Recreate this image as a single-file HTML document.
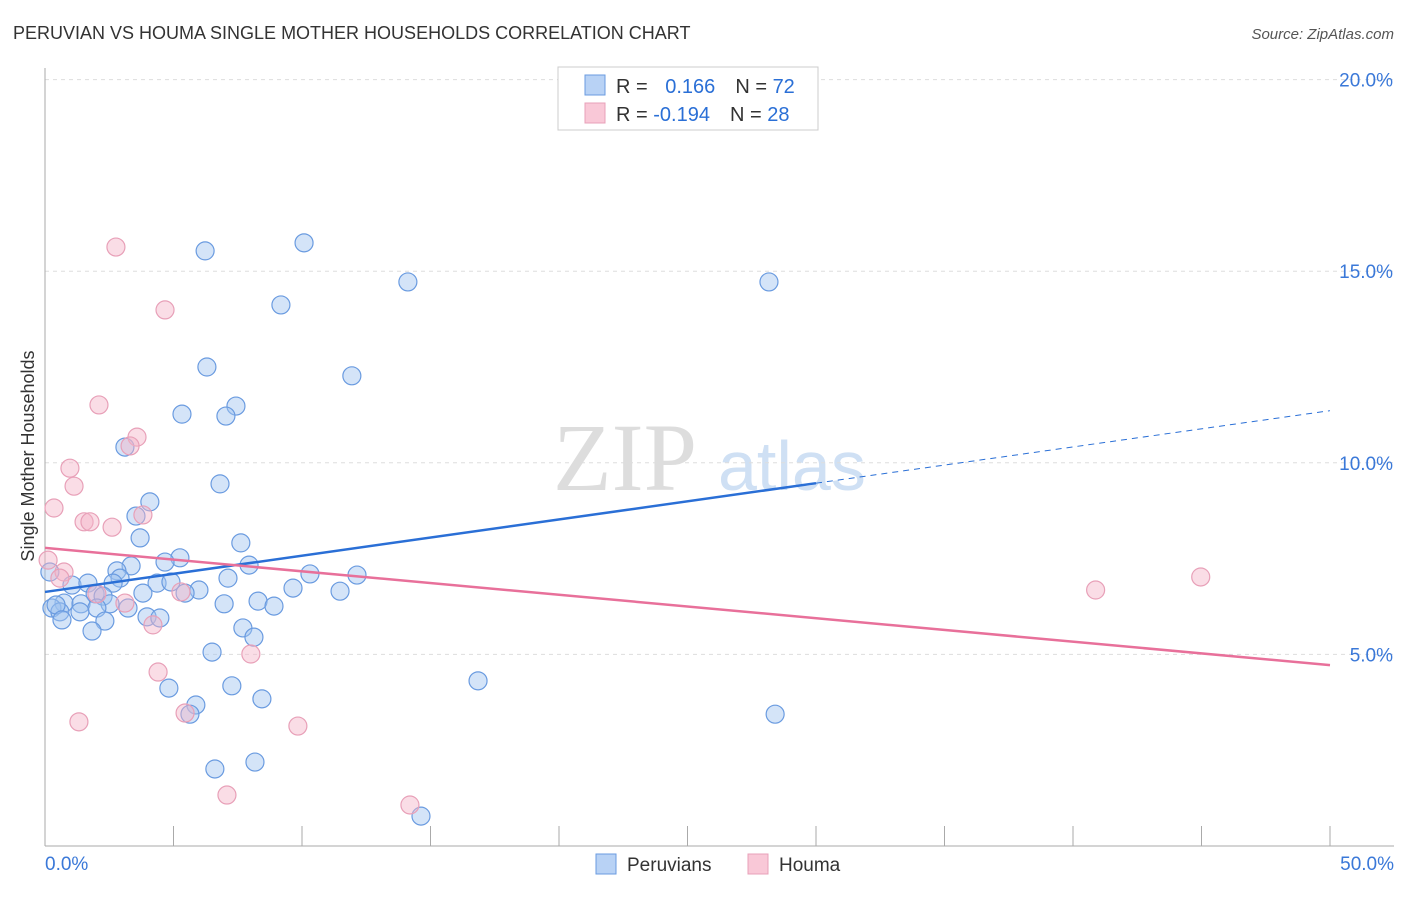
<!DOCTYPE html>
<html><head><meta charset="utf-8"><style>
body{margin:0;background:#fff;font-family:"Liberation Sans",sans-serif}
</style></head><body>
<svg id="chart" width="1406" height="892" xmlns="http://www.w3.org/2000/svg" font-family="Liberation Sans, sans-serif">
<text x="13" y="39" font-size="18" fill="#333">PERUVIAN VS HOUMA SINGLE MOTHER HOUSEHOLDS CORRELATION CHART</text>
<text x="1394" y="39" font-size="15" fill="#555" text-anchor="end" font-style="italic">Source: ZipAtlas.com</text>
<g><text x="553" y="490" font-size="96" fill="#ddd" font-family="Liberation Serif, serif">ZIP</text><text x="718" y="490" font-size="70" fill="#cfe0f4">atlas</text></g>
<text transform="translate(34,456) rotate(-90)" font-size="18" fill="#333" text-anchor="middle">Single Mother Households</text>
<g id="grid"></g><g id="axes"></g><g id="marks"></g>
<g>
<rect x="558" y="67" width="260" height="63" fill="#fff" stroke="#ccc"/>
<rect x="585" y="75" width="20" height="20" fill="#b8d2f5" stroke="#6a9be0"/>
<rect x="585" y="103" width="20" height="20" fill="#f9c8d7" stroke="#e8a0b8"/>
<text x="616" y="93" font-size="20" fill="#333">R = <tspan fill="#2a6fd6" dx="12">0.166</tspan><tspan dx="20" fill="#333">N = </tspan><tspan fill="#2a6fd6">72</tspan></text>
<text x="616" y="121" font-size="20" fill="#333">R = <tspan fill="#2a6fd6">-0.194</tspan><tspan dx="20" fill="#333">N = </tspan><tspan fill="#2a6fd6">28</tspan></text>
</g>
<g>
<rect x="596" y="854" width="20" height="20" fill="#b8d2f5" stroke="#6a9be0"/>
<text x="627" y="871" font-size="19" fill="#333">Peruvians</text>
<rect x="748" y="854" width="20" height="20" fill="#f9c8d7" stroke="#e8a0b8"/>
<text x="779" y="871" font-size="19" fill="#333">Houma</text>
</g>
</svg>
<script>
const blueX=[10.08,6.23,14.12,28.17,9.18,6.30,11.94,7.43,5.33,7.04,3.11,6.81,4.08,3.54,3.70,7.62,5.25,4.67,7.94,3.35,2.80,10.31,12.14,7.12,2.92,4.36,1.05,1.67,2.65,4.90,9.65,11.48,5.99,5.45,3.81,1.95,2.26,8.29,8.91,6.97,0.74,1.40,2.53,3.23,0.27,0.58,2.02,1.36,0.43,3.97,4.47,0.66,2.33,7.70,1.83,8.13,6.50,16.85,4.82,7.27,5.87,8.44,5.64,28.41,6.61,8.17,14.63,0.19];
const blueY=[15.74,15.53,14.72,14.72,14.12,12.50,12.27,11.48,11.27,11.22,10.41,9.45,8.98,8.61,8.04,7.91,7.52,7.41,7.33,7.31,7.18,7.10,7.07,6.99,6.99,6.86,6.81,6.86,6.86,6.89,6.73,6.65,6.68,6.60,6.60,6.58,6.52,6.39,6.26,6.32,6.34,6.32,6.32,6.21,6.21,6.11,6.21,6.11,6.29,5.98,5.95,5.90,5.87,5.69,5.61,5.45,5.06,4.31,4.12,4.18,3.68,3.84,3.44,3.44,2.01,2.19,0.78,7.15];
const pinkX=[2.76,4.67,2.10,3.58,3.31,0.97,1.13,0.35,3.81,1.52,1.75,2.61,0.12,0.74,0.58,44.97,40.88,5.29,2.02,3.11,4.20,8.01,4.40,5.45,1.32,9.84,7.08,14.20];
const pinkY=[15.63,13.99,11.51,10.67,10.44,9.86,9.39,8.82,8.64,8.46,8.46,8.32,7.46,7.15,6.99,7.02,6.68,6.63,6.58,6.34,5.77,5.01,4.54,3.47,3.24,3.13,1.33,1.07];
const blueTrend=[6.63,11.36]; // values at x=0 and x=50
const blueSolidEnd=30;
const pinkTrend=[7.78,4.72];
const yTicks=[5,10,15,20];
const yTickLabels=["5.0%","10.0%","15.0%","20.0%"];
const xTicks=[0,5,10,15,20,25,30,35,40,45,50];
const xLabels=[[0,"0.0%"],[50,"50.0%"]];

const NS="http://www.w3.org/2000/svg";
const X=v=>45+v*(1285/50), Y=v=>846-v*38.32;
function mk(tag,attrs,parent){const e=document.createElementNS(NS,tag);for(const k in attrs)e.setAttribute(k,attrs[k]);parent.appendChild(e);return e;}
const grid=document.getElementById('grid'),axes=document.getElementById('axes'),marks=document.getElementById('marks');
yTicks.forEach((t,i)=>{
 const l=mk('line',{x1:45,x2:1394,y1:Y(t),y2:Y(t),stroke:'#ddd','stroke-dasharray':'4,4'},grid);
 
 
 const tx=mk('text',{x:1393,y:Y(t)+7,'font-size':19,fill:'#3a78d8','text-anchor':'end'},axes);
 tx.textContent=yTickLabels[i];
 
 
});
const ax=mk('line',{x1:45,x2:45,y1:68,y2:846,stroke:'#aaa'},axes);


const bx=mk('line',{x1:45,x2:1394,y1:846,y2:846,stroke:'#aaa'},axes);


xTicks.forEach(t=>{const l=mk('line',{x1:X(t),x2:X(t),y1:826,y2:846,stroke:'#aaa'},axes);
 
 });
xLabels.forEach(([v,s],i)=>{const tx=mk('text',{x:i?1394:45,y:870,'font-size':19,fill:'#3a78d8','text-anchor':i?'end':'start'},axes);tx.textContent=s;
 
 });
blueX.forEach((v,i)=>{const c=mk('circle',{cx:X(v),cy:Y(blueY[i]),r:9,fill:'rgba(160,196,240,0.45)',stroke:'#6a9be0','stroke-width':1.2},marks);
 
 });
pinkX.forEach((v,i)=>{const c=mk('circle',{cx:X(v),cy:Y(pinkY[i]),r:9,fill:'rgba(245,180,200,0.45)',stroke:'#e8a0b8','stroke-width':1.2},marks);
 
 });
const bAt=x=>blueTrend[0]+(blueTrend[1]-blueTrend[0])*x/50;
const b1=mk('line',{x1:X(0),y1:Y(bAt(0)),x2:X(blueSolidEnd),y2:Y(bAt(blueSolidEnd)),stroke:'#2a6fd6','stroke-width':2.5},marks);


const b2=mk('line',{x1:X(blueSolidEnd),y1:Y(bAt(blueSolidEnd)),x2:X(50),y2:Y(bAt(50)),stroke:'#2a6fd6','stroke-width':1,'stroke-dasharray':'6,5'},marks);


const p1=mk('line',{x1:X(0),y1:Y(pinkTrend[0]),x2:X(50),y2:Y(pinkTrend[1]),stroke:'#e8709a','stroke-width':2.5},marks);


</script>
</body></html>
